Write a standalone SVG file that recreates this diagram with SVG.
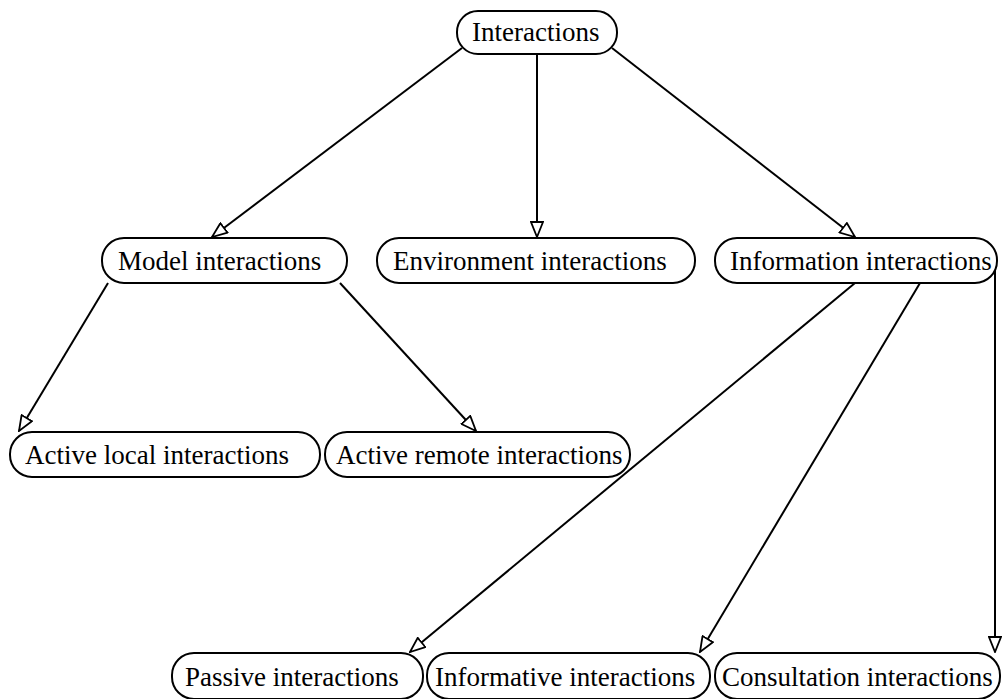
<svg xmlns="http://www.w3.org/2000/svg" width="1003" height="699" viewBox="0 0 1003 699">
  <style>
    .box { fill: #fff; stroke: #000; stroke-width: 2; }
    .lbl { font-family: "Liberation Serif", "Times New Roman", serif; font-size: 27px; fill: #000; }
    .edge { stroke: #000; stroke-width: 2; fill: none; marker-end: url(#open); }
  </style>
  <defs>
    <!-- hollow triangular arrowhead shared by every connector -->
    <marker id="open" viewBox="0 0 17 14" refX="16" refY="7" markerWidth="17" markerHeight="14" markerUnits="userSpaceOnUse" orient="auto">
      <path d="M1,1 L16,7 L1,13 Z" fill="#fff" stroke="#000" stroke-width="1.8"/>
    </marker>
  </defs>
  <rect width="1003" height="699" fill="#fff"/>

  <g id="connectors">
    <line class="edge" x1="462" y1="48" x2="212" y2="237"/>
    <line class="edge" x1="537" y1="54" x2="537" y2="237"/>
    <line class="edge" x1="612" y1="48" x2="855" y2="237"/>
    <line class="edge" x1="108" y1="283" x2="19" y2="431"/>
    <line class="edge" x1="340" y1="283" x2="476" y2="431"/>
    <line class="edge" x1="855" y1="283" x2="410" y2="652"/>
    <line class="edge" x1="920" y1="283" x2="700" y2="652"/>
    <line class="edge" x1="995" y1="270" x2="995" y2="652"/>
  </g>

  <g id="n-interactions">
    <rect class="box" x="457" y="11" width="160" height="43" rx="21"/>
    <text class="lbl" x="472" y="41">Interactions</text>
  </g>
  <g id="n-model">
    <rect class="box" x="102" y="238" width="245" height="45" rx="22"/>
    <text class="lbl" x="118" y="270">Model interactions</text>
  </g>
  <g id="n-environment">
    <rect class="box" x="377" y="238" width="318" height="45" rx="22"/>
    <text class="lbl" x="393" y="270">Environment interactions</text>
  </g>
  <g id="n-information">
    <rect class="box" x="715" y="238" width="282" height="45" rx="22"/>
    <text class="lbl" x="730" y="270">Information interactions</text>
  </g>
  <g id="n-active-local">
    <rect class="box" x="10" y="432" width="310" height="45" rx="22"/>
    <text class="lbl" x="25" y="464">Active local interactions</text>
  </g>
  <g id="n-active-remote">
    <rect class="box" x="325" y="432" width="305" height="45" rx="22"/>
    <text class="lbl" x="336" y="464">Active remote interactions</text>
  </g>
  <g id="n-passive">
    <rect class="box" x="172" y="653" width="251" height="46" rx="22"/>
    <text class="lbl" x="185" y="686">Passive interactions</text>
  </g>
  <g id="n-informative">
    <rect class="box" x="427" y="653" width="283" height="46" rx="22"/>
    <text class="lbl" x="435" y="686">Informative interactions</text>
  </g>
  <g id="n-consultation">
    <rect class="box" x="715" y="653" width="285" height="46" rx="22"/>
    <text class="lbl" x="722" y="686">Consultation interactions</text>
  </g>
</svg>
